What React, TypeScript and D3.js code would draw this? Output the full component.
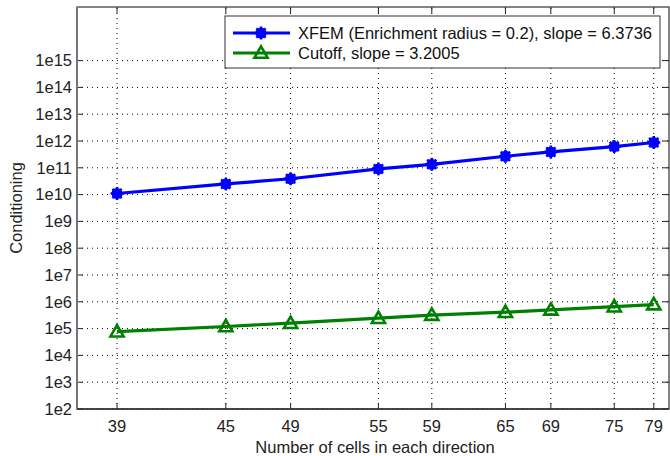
import * as d3 from "d3";
import { useRef, useEffect } from "react";

// cells per direction
const cells = [39, 45, 49, 55, 59, 65, 69, 75, 79];
// condition numbers
const xfemValues = [1.1e10, 2.5e10, 3.9e10, 9.1e10, 1.35e11, 2.7e11, 3.9e11, 6.2e11, 8.8e11];
const cutoffValues = [7.7e4, 1.2e5, 1.6e5, 2.45e5, 3.2e5, 4.1e5, 5.0e5, 6.6e5, 7.9e5];
const yTickExps = [2, 3, 4, 5, 6, 7, 8, 9, 10, 11, 12, 13, 14, 15];
const legendLabels = [
    "XFEM (Enrichment radius = 0.2), slope = 6.3736",
    "Cutoff, slope = 3.2005",
];

const W = 670, H = 456;
const margin = { top: 7, left: 77, right: 1, bottom: 47 };
const blue = "#0000ff";
const green = "#008000";
const font = "'Liberation Sans', Arial, sans-serif";
const fs = 16.5;

const App = () => {
    const ref = useRef<SVGSVGElement>(null);

    useEffect(() => {
        const svg = d3.select(ref.current);
        svg.selectAll("*").remove();

        const x = d3.scaleLog().domain([37.0, 80.6]).range([margin.left, W - margin.right]);
        const y = d3.scaleLog().domain([1e2, 1e17]).range([H - margin.bottom, margin.top]);
        const x0 = margin.left, x1 = W - margin.right;
        const y0 = H - margin.bottom, y1 = margin.top;

        svg.append("rect").attr("x", x0).attr("y", y1).attr("width", x1 - x0).attr("height", y0 - y1).attr("fill", "#fff");

        // grid
        const grid = svg.append("g").attr("stroke", "#000").attr("stroke-width", 1).attr("stroke-dasharray", "1,4");
        cells.forEach(c => {
            grid.append("line").attr("x1", x(c)).attr("x2", x(c)).attr("y1", y0).attr("y2", y1);
        });
        yTickExps.forEach(e => {
            grid.append("line").attr("x1", x0).attr("x2", x1).attr("y1", y(Math.pow(10, e))).attr("y2", y(Math.pow(10, e)));
        });

        // inward ticks
        const ticks = svg.append("g").attr("stroke", "#222").attr("stroke-width", 1);
        cells.forEach(c => {
            ticks.append("line").attr("x1", x(c)).attr("x2", x(c)).attr("y1", y0).attr("y2", y0 - 6);
            ticks.append("line").attr("x1", x(c)).attr("x2", x(c)).attr("y1", y1).attr("y2", y1 + 6);
        });
        yTickExps.forEach(e => {
            const yy = y(Math.pow(10, e));
            ticks.append("line").attr("x1", x0).attr("x2", x0 + 6).attr("y1", yy).attr("y2", yy);
            ticks.append("line").attr("x1", x1).attr("x2", x1 - 6).attr("y1", yy).attr("y2", yy);
        });

        // frame
        svg.append("rect").attr("x", x0).attr("y", y1).attr("width", x1 - x0).attr("height", y0 - y1)
           .attr("fill", "none").attr("stroke", "#333").attr("stroke-width", 1.2);
        svg.append("line").attr("x1", x0).attr("x2", x0).attr("y1", y1).attr("y2", y0).attr("stroke", "#777").attr("stroke-width", 2);
        svg.append("line").attr("x1", x0).attr("x2", x1).attr("y1", y0).attr("y2", y0).attr("stroke", "#333").attr("stroke-width", 1.5);

        // tick labels
        svg.append("g").selectAll("text").data(yTickExps).enter().append("text")
           .attr("x", x0 - 5).attr("y", e => y(Math.pow(10, e))).attr("dy", "0.35em")
           .attr("text-anchor", "end").attr("font-family", font).attr("font-size", fs).attr("fill", "#222")
           .text(e => `1e${e}`);
        svg.append("g").selectAll("text").data(cells).enter().append("text")
           .attr("x", c => x(c)).attr("y", y0 + 23)
           .attr("text-anchor", "middle").attr("font-family", font).attr("font-size", fs).attr("fill", "#222")
           .text(c => c);

        svg.append("text").attr("x", (x0 + x1) / 2 + 2).attr("y", H - 3).attr("text-anchor", "middle")
           .attr("font-family", font).attr("font-size", fs).attr("fill", "#222")
           .text("Number of cells in each direction");
        svg.append("text").attr("transform", `translate(22, ${(y0 + y1) / 2}) rotate(-90)`).attr("text-anchor", "middle")
           .attr("font-family", font).attr("font-size", fs).attr("fill", "#222")
           .text("Conditioning");

        const line = d3.line<number>().x((d, i) => x(cells[i]));

        const drawStar = (g, cx, cy) => {
            g.append("circle").attr("cx", cx).attr("cy", cy).attr("r", 5.5).attr("fill", blue);
            [0, 45, 90, 135].forEach(a => {
                const r = 6.5, rad = a * Math.PI / 180;
                g.append("line")
                 .attr("x1", cx - r * Math.cos(rad)).attr("y1", cy - r * Math.sin(rad))
                 .attr("x2", cx + r * Math.cos(rad)).attr("y2", cy + r * Math.sin(rad))
                 .attr("stroke", blue).attr("stroke-width", 2.5);
            });
        };
        const tri = d3.symbol().type(d3.symbolTriangle).size(75);
        const drawTri = (g, cx, cy) => {
            g.append("path").attr("d", tri()).attr("transform", `translate(${cx},${cy + 1})`)
             .attr("fill", "none").attr("stroke", green).attr("stroke-width", 2.6);
        };

        // XFEM
        const gB = svg.append("g");
        gB.append("path").attr("d", line.y(d => y(d))(xfemValues)).attr("fill", "none").attr("stroke", blue).attr("stroke-width", 3.2);
        xfemValues.forEach((v, i) => drawStar(gB, x(cells[i]), y(v)));

        // Cutoff
        const gG = svg.append("g");
        gG.append("path").attr("d", line.y(d => y(d))(cutoffValues)).attr("fill", "none").attr("stroke", green).attr("stroke-width", 3.2);
        cutoffValues.forEach((v, i) => drawTri(gG, x(cells[i]), y(v)));

        // legend
        const lg = svg.append("g");
        lg.append("rect").attr("x", 225).attr("y", 16).attr("width", 435).attr("height", 52)
          .attr("fill", "#fff").attr("stroke", "#333").attr("stroke-width", 1);
        const rows = [33, 53];
        lg.append("line").attr("x1", 233).attr("x2", 290).attr("y1", rows[0]).attr("y2", rows[0]).attr("stroke", blue).attr("stroke-width", 3.2);
        drawStar(lg, 261, rows[0]);
        lg.append("line").attr("x1", 233).attr("x2", 290).attr("y1", rows[1]).attr("y2", rows[1]).attr("stroke", green).attr("stroke-width", 3.2);
        drawTri(lg, 261, rows[1]);
        legendLabels.forEach((t, i) => {
            lg.append("text").attr("x", 298).attr("y", rows[i]).attr("dy", "0.35em")
              .attr("font-family", font).attr("font-size", fs).attr("fill", "#111").text(t);
        });
    }, []);

    return (
        <svg ref={ref} width={W} height={H} style={{ position: "absolute", left: 0, top: 0, background: "#fff" }}></svg>
    );
};

export default App;
